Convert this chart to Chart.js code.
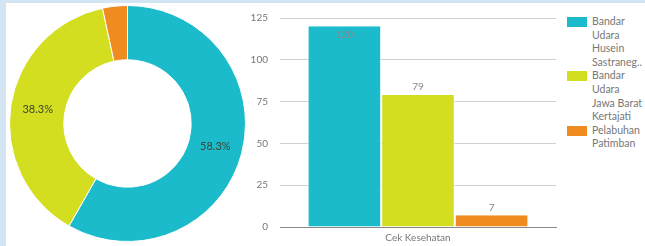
<!DOCTYPE html>
<html>
<head>
<meta charset="utf-8">
<script src="https://cdn.jsdelivr.net/npm/chart.js@4"></script>
<style>
  html, body { margin: 0; padding: 0; }
  body { width: 645px; height: 246px; background: #d3e5f2; position: relative; overflow: hidden; font-family: Lato, sans-serif; }
  #panel { position: absolute; left: 6px; top: 3px; right: 0; bottom: 0; background: #fff; }
  #pieWrap { position: absolute; left: 9px; top: 5px; width: 237px; height: 237px; }
  #barWrap { position: absolute; left: 250px; top: 0; width: 310px; height: 246px; }
  #legend { position: absolute; left: 567px; top: 15px; width: 78px; font-size: 10.5px; color: #777; }
  .item { display: flex; align-items: flex-start; }
  .box { width: 20px; height: 10px; margin-top: 2px; margin-right: 5px; flex: none; }
  .txt div { line-height: 13.6px; white-space: nowrap; }
</style>
</head>
<body>
<div id="panel"></div>
<div id="pieWrap"><canvas id="pieChart" width="237" height="237"></canvas></div>
<div id="barWrap"><canvas id="barChart" width="310" height="246"></canvas></div>
<div id="legend"></div>
<script>
// values
const locations = ['Bandar Udara Husein Sastranegara', 'Bandar Udara Jawa Barat Kertajati', 'Pelabuhan Patimban'];
const counts = [120, 79, 7];
const categories = ['Cek Kesehatan'];
const yTicks = [0, 25, 50, 75, 100, 125];
const colors = ['#1bbbcb', '#d4de20', '#f08c1f'];

const fontFamily = 'Lato, sans-serif';

// percentage text on the doughnut
const pctLabels = {
    id: 'pctLabels',
    afterDatasetsDraw(chart) {
        const ctx = chart.ctx;
        const meta = chart.getDatasetMeta(0);
        const total = counts.reduce((a, b) => a + b, 0);
        ctx.save();
        ctx.font = '11px ' + fontFamily;
        ctx.fillStyle = '#3a4530';
        ctx.textAlign = 'center';
        ctx.textBaseline = 'middle';
        meta.data.forEach((arc, i) => {
            const pct = counts[i] / total * 100;
            if (pct < 5) return;
            const p = arc.tooltipPosition();
            ctx.fillText(pct.toFixed(1) + '%', p.x, p.y);
        });
        ctx.restore();
    }
};

new Chart(document.getElementById('pieChart'), {
    type: 'doughnut',
    data: {
        labels: locations,
        datasets: [{
            data: counts,
            backgroundColor: colors,
            borderColor: '#ffffff',
            borderWidth: 1
        }]
    },
    options: {
        responsive: false,
        animation: false,
        cutout: '54%',
        plugins: { legend: { display: false }, tooltip: { enabled: false } }
    },
    plugins: [pctLabels]
});

// value on top of each bar, pushed inside if it would hit the top
const barValues = {
    id: 'barValues',
    afterDatasetsDraw(chart) {
        const ctx = chart.ctx;
        const top = chart.chartArea.top;
        ctx.save();
        ctx.font = '10px ' + fontFamily;
        ctx.fillStyle = '#888';
        ctx.textAlign = 'center';
        ctx.textBaseline = 'middle';
        chart.data.datasets.forEach((ds, i) => {
            chart.getDatasetMeta(i).data.forEach((bar, j) => {
                let y = bar.y - 8;
                if (y - 5 < top) y = bar.y + 8;
                ctx.fillText(String(ds.data[j]), bar.x, y);
            });
        });
        ctx.restore();
    }
};

new Chart(document.getElementById('barChart'), {
    type: 'bar',
    data: {
        labels: categories,
        datasets: locations.map((name, i) => ({
            label: name,
            data: [counts[i]],
            backgroundColor: colors[i],
            borderColor: '#ffffff',
            borderWidth: { left: 1, right: 1 },
            categoryPercentage: 0.8,
            barPercentage: 1
        }))
    },
    options: {
        responsive: false,
        animation: false,
        layout: { padding: { top: 17, right: 4, left: 0, bottom: 0 } },
        plugins: { legend: { display: false }, tooltip: { enabled: false } },
        scales: {
            x: {
                grid: { display: false, drawTicks: false },
                border: { display: true, color: '#8a8a8a', width: 1 },
                ticks: { color: '#777', font: { family: fontFamily, size: 10 }, padding: 5 },
                afterFit(scale) { scale.height = 19; }
            },
            y: {
                min: 0,
                max: yTicks[yTicks.length - 1],
                afterBuildTicks(scale) { scale.ticks = yTicks.map(v => ({ value: v })); },
                grid: { color: '#cfcfcf', drawTicks: false },
                border: { display: false },
                ticks: { color: '#777', font: { family: fontFamily, size: 10 }, padding: 12 },
                afterFit(scale) { scale.width = 30; }
            }
        }
    },
    plugins: [barValues]
});

// legend with wrapped lines, long words cut with ".."
const measure = document.createElement('canvas').getContext('2d');
measure.font = '10.5px ' + fontFamily;
const maxW = 52;
function wrap(text) {
    const lines = [];
    let cur = '';
    text.split(' ').forEach(w => {
        const test = cur ? cur + ' ' + w : w;
        if (measure.measureText(test).width <= maxW) {
            cur = test;
        } else {
            if (cur) lines.push(cur);
            cur = w;
        }
    });
    if (cur) lines.push(cur);
    return lines.map(l => {
        if (measure.measureText(l).width <= maxW) return l;
        let s = l;
        while (s.length > 1 && measure.measureText(s + '..').width > maxW) s = s.slice(0, -1);
        return s + '..';
    });
}
const legend = document.getElementById('legend');
locations.forEach((name, i) => {
    const item = document.createElement('div');
    item.className = 'item';
    const box = document.createElement('div');
    box.className = 'box';
    box.style.background = colors[i];
    const txt = document.createElement('div');
    txt.className = 'txt';
    wrap(name).forEach(l => {
        const d = document.createElement('div');
        d.textContent = l;
        txt.appendChild(d);
    });
    item.appendChild(box);
    item.appendChild(txt);
    legend.appendChild(item);
});
</script>
</body>
</html>
